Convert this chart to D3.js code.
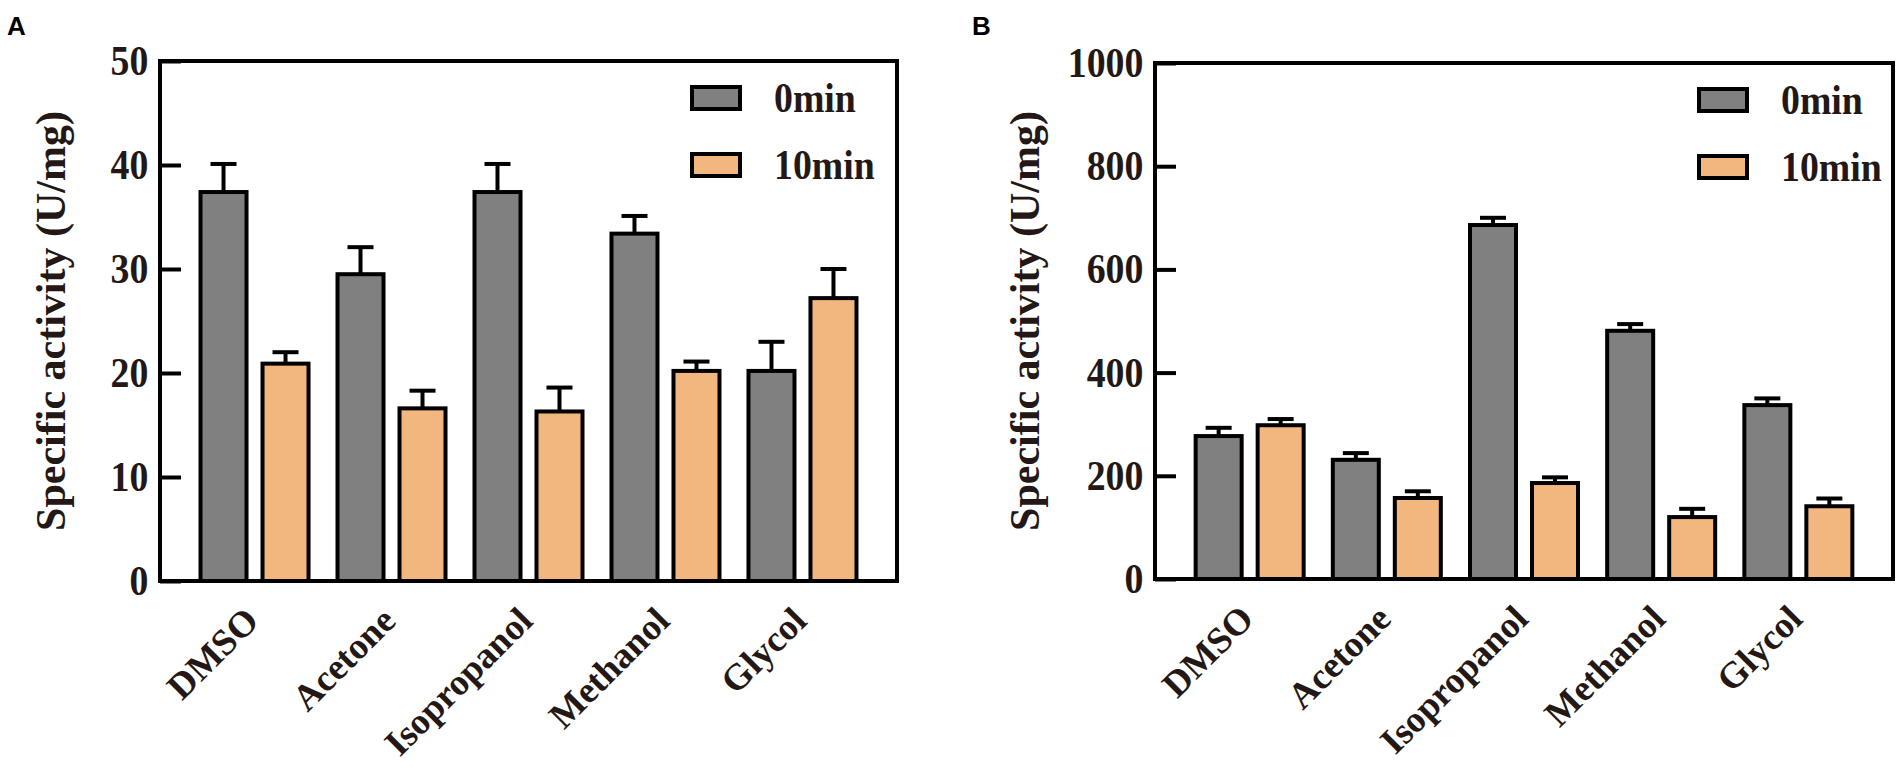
<!DOCTYPE html>
<html lang="en">
<head>
    <meta charset="UTF-8">
    <title>Specific activity after solvent treatment</title>
    <script src="https://d3js.org/d3.v7.min.js"></script>
    <style>
        body { margin: 0; background: #fff; }
    </style>
</head>
<body>
</body>
<script>
    const categories = ["DMSO", "Acetone", "Isopropanol", "Methanol", "Glycol"];
    const seriesNames = ["0min", "10min"];

    // panel A, U/mg
    const a0min = [37.4, 29.5, 37.4, 33.4, 20.2];
    const a0minErr = [2.7, 2.6, 2.7, 1.7, 2.8];
    const a10min = [20.9, 16.6, 16.3, 20.2, 27.2];
    const a10minErr = [1.1, 1.7, 2.3, 0.9, 2.8];
    const aTicks = [0, 10, 20, 30, 40, 50];

    // panel B, U/mg
    const b0min = [277, 231, 686, 481, 337];
    const b0minErr = [16, 13, 14, 13, 13];
    const b10min = [298, 157, 186, 120, 141];
    const b10minErr = [12, 13, 11, 16, 15];
    const bTicks = [0, 200, 400, 600, 800, 1000];

    const WIDTH = 1904, HEIGHT = 767;
    const colors = {"0min": "#808080", "10min": "#F1B77E"};
    const INK = "#231815";
    const SERIF = "'Liberation Serif', 'Times New Roman', serif";

    const svg = d3.select("body").append("svg").attr("width", WIDTH).attr("height", HEIGHT);
    svg.append("rect").attr("width", WIDTH).attr("height", HEIGHT).attr("fill", "#fff");

    function drawPanel(p) {
        const g = svg.append("g");
        const x0 = d3.scaleBand().domain(categories).range([p.left, p.right]).paddingInner(0).paddingOuter(0.19);
        const half = x0.bandwidth() / 2;
        const x1 = d3.scaleBand().domain(seriesNames).range([half - 54, half + 54]).paddingInner(0.258);
        const y = d3.scaleLinear().domain([0, p.ticks[p.ticks.length - 1]]).range([p.bottom, p.top]);

        const rows = [];
        categories.forEach((c, i) => {
            rows.push({cat: c, s: "0min", v: p.v0[i], e: p.e0[i]});
            rows.push({cat: c, s: "10min", v: p.v10[i], e: p.e10[i]});
        });

        // error bars (upper only)
        rows.forEach(d => {
            const cx = x0(d.cat) + x1(d.s) + x1.bandwidth() / 2;
            g.append("line").attr("x1", cx).attr("x2", cx).attr("y1", y(d.v)).attr("y2", y(d.v + d.e))
                .attr("stroke", "#000").attr("stroke-width", 4);
            g.append("line").attr("x1", cx - 13).attr("x2", cx + 13).attr("y1", y(d.v + d.e)).attr("y2", y(d.v + d.e))
                .attr("stroke", "#000").attr("stroke-width", 4);
        });

        g.selectAll("rect.bar").data(rows).enter().append("rect")
            .attr("class", "bar")
            .attr("x", d => x0(d.cat) + x1(d.s))
            .attr("y", d => y(d.v))
            .attr("width", x1.bandwidth())
            .attr("height", d => y(0) - y(d.v))
            .attr("fill", d => colors[d.s])
            .attr("stroke", "#000").attr("stroke-width", 4);

        // frame
        g.append("rect").attr("x", p.left).attr("y", p.top)
            .attr("width", p.right - p.left).attr("height", p.bottom - p.top)
            .attr("fill", "none").attr("stroke", "#000").attr("stroke-width", 4);

        const yAxis = g.append("g").attr("transform", "translate(" + p.left + ",0)")
            .call(d3.axisLeft(y).tickValues(p.ticks).tickFormat(d3.format("d"))
                .tickSizeInner(-21).tickSizeOuter(0).tickPadding(13));
        yAxis.select(".domain").remove();
        yAxis.selectAll(".tick line").attr("stroke", "#000").attr("stroke-width", 4);
        yAxis.selectAll(".tick text")
            .attr("fill", INK).attr("font-family", SERIF).attr("font-weight", "bold").attr("font-size", 42)
            .attr("transform", "scale(0.9,1)");

        // category labels
        categories.forEach(c => {
            const cx = x0(c) + half + 6;
            g.append("text").text(c)
                .attr("transform", "translate(" + cx + "," + (p.bottom + 42) + ") rotate(-45)")
                .attr("text-anchor", "end")
                .attr("fill", INK).attr("font-family", SERIF).attr("font-weight", "bold").attr("font-size", 37);
        });

        g.append("text").text("Specific activity (U/mg)")
            .attr("transform", "translate(" + p.titleX + "," + ((p.top + p.bottom) / 2) + ") rotate(-90)")
            .attr("text-anchor", "middle")
            .attr("fill", INK).attr("font-family", SERIF).attr("font-weight", "bold").attr("font-size", 42);

        // legend
        seriesNames.forEach((s, i) => {
            const ly = p.top + 26 + i * 67;
            g.append("rect").attr("x", p.right - p.legendDx).attr("y", ly)
                .attr("width", 48).attr("height", 22)
                .attr("fill", colors[s]).attr("stroke", "#000").attr("stroke-width", 4);
            g.append("text").text(s)
                .attr("transform", "translate(" + (p.right - p.legendDx + 82) + "," + (ly + 25) + ") scale(0.9,1)")
                .attr("fill", INK).attr("font-family", SERIF).attr("font-weight", "bold").attr("font-size", 42);
        });

        svg.append("text").text(p.letter).attr("x", p.letterX).attr("y", 35)
            .attr("font-family", "'Liberation Sans', Arial, sans-serif").attr("font-weight", "bold")
            .attr("font-size", 26).attr("fill", "#000");
    }

    drawPanel({letter: "A", letterX: 7, left: 160, right: 897, top: 61, bottom: 581, titleX: 65, legendDx: 205,
        ticks: aTicks, v0: a0min, e0: a0minErr, v10: a10min, e10: a10minErr});
    drawPanel({letter: "B", letterX: 972, left: 1155, right: 1893, top: 63, bottom: 579, titleX: 1039, legendDx: 194,
        ticks: bTicks, v0: b0min, e0: b0minErr, v10: b10min, e10: b10minErr});
</script>
</html>
